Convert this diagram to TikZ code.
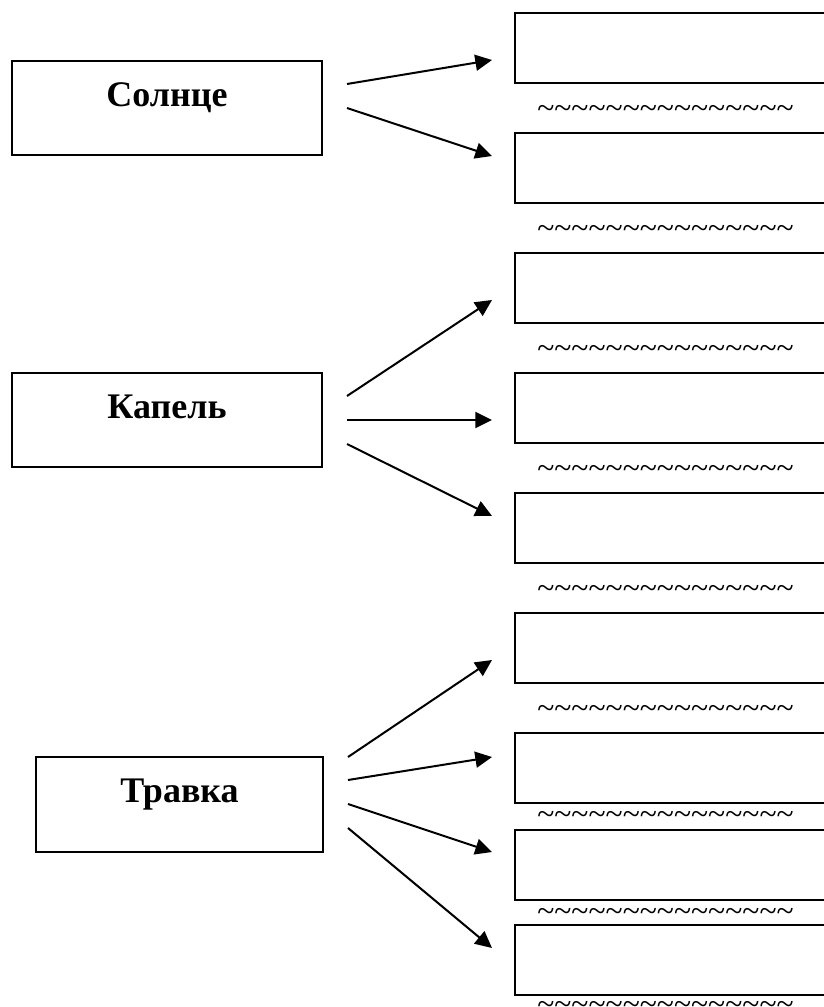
\documentclass[tikz,border=0pt]{standalone}
\usepackage{fontspec}
\setmainfont{Liberation Serif}
\usetikzlibrary{arrows.meta,calc}

\newcommand{\wv}{\textasciitilde}
\newcommand{\wavyline}{\wv\wv\wv\wv\wv\wv\wv\wv\wv\wv\wv\wv\wv\wv\wv}

\tikzset{
  topic/.style={draw, line width=1.5pt, inner sep=0pt, anchor=north west,
    minimum width=232.5pt, minimum height=70.5pt,
    font=\bfseries\fontsize{27}{30}\selectfont, text height=18pt, text depth=21pt},
  slot/.style={draw, line width=1.5pt, anchor=north west,
    minimum width=247.5pt, minimum height=52.5pt},
  wave/.style={inner sep=0pt, font=\fontsize{23.7}{24}\selectfont},
  arr/.style={-{Triangle[length=12.5pt,width=12pt]}, line width=1.5pt},
}

\begin{document}
\begin{tikzpicture}[x=0.75pt, y=-0.75pt]
\useasboundingbox (0,0) rectangle (824,1007);
\clip (0,0) rectangle (824,1007);

% left column
\node[topic] (sun)   at (11,60)  {Солнце};
\node[topic] (drop)  at (11,372) {Капель};
\node[topic, minimum width=215.25pt, minimum height=71.25pt] (grass) at (35,756) {Травка};

% right column
\node[slot] (r1) at (514,12)  {};
\node[slot] (r2) at (514,132) {};
\node[slot] (r3) at (514,252) {};
\node[slot] (r4) at (514,372) {};
\node[slot] (r5) at (514,492) {};
\node[slot] (r6) at (514,612) {};
\node[slot] (r7) at (514,732) {};
\node[slot] (r8) at (514,829) {};
\node[slot] (r9) at (514,924) {};

% wavy lines under the boxes
\node[wave] (w1) at ($(r1.south west)+(151.5,28)$) {\wavyline};
\node[wave] (w2) at ($(r2.south west)+(151.5,28)$) {\wavyline};
\node[wave] (w3) at ($(r3.south west)+(151.5,28)$) {\wavyline};
\node[wave] (w4) at ($(r4.south west)+(151.5,28)$) {\wavyline};
\node[wave] (w5) at ($(r5.south west)+(151.5,28)$) {\wavyline};
\node[wave] (w6) at ($(r6.south west)+(151.5,28)$) {\wavyline};
\node[wave] (w7) at ($(r7.south west)+(151.5,14)$) {\wavyline};
\node[wave] (w8) at ($(r8.south west)+(151.5,14)$) {\wavyline};
\node[wave] (w9) at ($(r9.south west)+(151.5,12)$) {\wavyline};

% arrows
\draw[arr] ([shift={(24,24)}]sun.north east) -- ([shift={(-22,48)}]r1.north west);
\draw[arr] ([shift={(24,48)}]sun.north east) -- ([shift={(-22,24)}]r2.north west);

\draw[arr] ([shift={(24,24)}]drop.north east) -- ([shift={(-22,48)}]r3.north west);
\draw[arr] ([shift={(24,48)}]drop.north east) -- ([shift={(-22,48)}]r4.north west);
\draw[arr] ([shift={(24,72)}]drop.north east) -- ([shift={(-22,24)}]r5.north west);

\draw[arr] ([shift={(24,1)}]grass.north east)  -- ([shift={(-22,48)}]r6.north west);
\draw[arr] ([shift={(24,24)}]grass.north east) -- ([shift={(-22,25)}]r7.north west);
\draw[arr] ([shift={(24,48)}]grass.north east) -- ([shift={(-22,23)}]r8.north west);
\draw[arr] ([shift={(24,72)}]grass.north east) -- ([shift={(-22,24)}]r9.north west);
\end{tikzpicture}
\end{document}
